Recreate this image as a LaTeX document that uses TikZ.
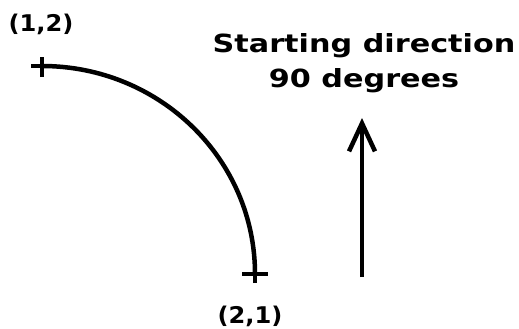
\documentclass[tikz,border=0pt]{standalone}
\usepackage{fontspec}
\setmainfont{DejaVu Sans}
\usetikzlibrary{arrows.meta}
\tikzset{
  curve/.style={line width=4.5pt, line cap=round},
  tick/.style={line width=4.5pt},
  lbl/.style={inner sep=0pt, font=\bfseries\fontsize{23}{26}\selectfont},
  big/.style={inner sep=0pt, font=\bfseries\fontsize{25}{28}\selectfont},
  arr/.style={line width=4.5pt, -{Straight Barb[length=28pt,width=26pt,line width=4.5pt]}}
}
\begin{document}
\begin{tikzpicture}[x=1pt,y=-1pt]
\useasboundingbox (0,0) rectangle (519,329);
\coordinate (p1) at (42,66);
\coordinate (p2) at (255,274);
\coordinate (a0) at (362,277);
\coordinate (a1) at (362,118);
\draw[curve] (p1) .. controls (159.6,66) and (255,159.1) .. (p2);
\draw[tick] ([xshift=-11pt]p1) -- ([xshift=10pt]p1);
\draw[tick] ([yshift=-11pt]p1) -- ([yshift=9pt]p1);
\draw[tick] ([xshift=-13pt]p2) -- ([xshift=13pt]p2);
\draw[tick] ([yshift=-9pt]p2) -- ([yshift=11pt]p2);
\node[lbl] (l1) at (41,24) {\scalebox{1.05}[1]{(1,2)}};
\node[lbl] (l2) at (250,316) {\scalebox{1.05}[1]{(2,1)}};
\node[big] (t1) at (364,46) {\scalebox{1.21}[1]{Starting direction}};
\node[big] (t2) at (364,81) {\scalebox{1.21}[1]{90 degrees}};
\draw[arr] (a0) -- (a1);
\end{tikzpicture}
\end{document}
